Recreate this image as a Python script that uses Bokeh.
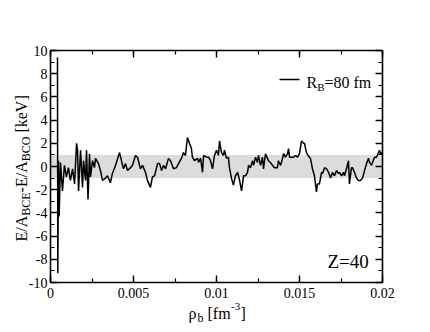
import math
from bokeh.plotting import figure
from bokeh.models import (LinearAxis, FixedTicker, BoxAnnotation, Label, Arrow, Range1d,
                          CustomJSTickFormatter)
from bokeh.embed import file_html
from bokeh.resources import INLINE

# ---------------- data ----------------
rho = [0.00042, 0.00044, 0.00048, 0.00052, 0.00060, 0.00072, 0.00084, 0.00096, 0.00108, 0.00120,
       0.00133, 0.00145, 0.00157, 0.00163, 0.00169, 0.00181, 0.00193, 0.00199, 0.00211, 0.00217,
       0.00226, 0.00235, 0.00241, 0.00253, 0.00265, 0.00271, 0.00289, 0.00301, 0.00313, 0.00331,
       0.00343, 0.00361, 0.00373, 0.00392, 0.00416, 0.00434, 0.00440, 0.00452, 0.00464, 0.00482,
       0.00494, 0.00512, 0.00524, 0.00542, 0.00554, 0.00572, 0.00584, 0.00602, 0.00614, 0.00627,
       0.00645, 0.00657, 0.00669, 0.00681, 0.00693, 0.00711, 0.00723, 0.00741, 0.00759, 0.00771,
       0.00789, 0.00801, 0.00813, 0.00825, 0.00837, 0.00849, 0.00855, 0.00867, 0.00886, 0.00892,
       0.00904, 0.00916, 0.00922, 0.00940, 0.00952, 0.00964, 0.00976, 0.00988, 0.01000, 0.01012,
       0.01018, 0.01030, 0.01042, 0.01048, 0.01060, 0.01072, 0.01078, 0.01090, 0.01102, 0.01114,
       0.01127, 0.01139, 0.01151, 0.01163, 0.01175, 0.01187, 0.01193, 0.01205, 0.01217, 0.01223,
       0.01235, 0.01247, 0.01253, 0.01265, 0.01277, 0.01283, 0.01295, 0.01307, 0.01313, 0.01325,
       0.01337, 0.01349, 0.01367, 0.01373, 0.01386, 0.01398, 0.01404, 0.01416, 0.01428, 0.01434,
       0.01440, 0.01452, 0.01464, 0.01476, 0.01488, 0.01500, 0.01512, 0.01524, 0.01530, 0.01542,
       0.01554, 0.01566, 0.01578, 0.01590, 0.01602, 0.01608, 0.01620, 0.01633, 0.01639, 0.01651,
       0.01663, 0.01675, 0.01687, 0.01699, 0.01711, 0.01723, 0.01735, 0.01741, 0.01753, 0.01765,
       0.01771, 0.01783, 0.01795, 0.01801, 0.01813, 0.01819, 0.01831, 0.01843, 0.01855, 0.01867,
       0.01880, 0.01892, 0.01904, 0.01916, 0.01922, 0.01934, 0.01940, 0.01952, 0.01964, 0.01976,
       0.01982, 0.01988, 0.02000]
dE = [9.4, -9.2, 0.5, -4.3, 0.35, -2.1, 0.1, -0.9, -0.1, -1.2,
      -0.2, -1.5, 2.0, 1.4, -2.1, 1.4, -1.8, 0.5, -1.2, 1.4,
      -2.85, 1.1, -0.9, 0.5, -0.1, 0.7, 0.25, -0.35, -1.2, -1.0,
      -0.8, -1.4, -0.6, 0.1, 1.2, 0.1, -0.2, 0.25, -0.35, -0.1,
      0.1, 0.95, 0.8, -0.2, 0.1, -0.5, -1.2, -1.8, -0.9, -0.8,
      0.25, 0.25, -0.35, 0.1, -0.2, 0.7, 0.5, -0.2, -0.1, 0.25,
      0.7, 1.2, 0.95, 2.5, 2.0, 1.55, 0.8, 0.5, 0.7, 0.35,
      0.7, -0.5, 0.95, 0.8, 0.8, 0.5, -0.2, 0.95, 1.4, 0.95,
      2.2, 1.2, 0.95, 1.4, 0.7, 0.8, -0.1, -1.0, -1.6, -0.8,
      -0.5, -1.2, -2.1, -0.8, -0.8, -0.5, 0.1, -0.1, 0.5, 0.1,
      0.8, 0.35, 0.95, 0.1, 0.8, -0.2, 1.1, 0.7, 0.5, 0.35,
      0.1, -0.1, -0.1, 0.5, 0.1, 0.7, 1.1, 0.8, 1.1, 1.55,
      0.8, 0.8, 0.8, 0.95, 0.8, 1.1, 2.2, 2.0, 2.0, 1.2,
      0.9, 0.7, -0.2, -0.8, -2.2, -1.5, -1.5, -0.5, -0.6, -0.1,
      -0.2, -0.5, -1.0, -0.5, -0.8, -0.35, -0.6, -0.5, -0.8, -0.5,
      -0.8, -0.2, 0.5, -1.5, -0.1, -0.1, -0.5, -1.0, -1.2, -1.2,
      -1.0, -0.35, 0.25, 0.7, 0.35, 0.1, 0.35, 0.8, 0.8, 1.2,
      1.4, 1.1, 1.2]

band_lo, band_hi = -1.0, 1.0
x_lo, x_hi = 0.0, 0.02
y_lo, y_hi = -10.0, 10.0
x_ticks = [0, 0.005, 0.01, 0.015, 0.02]
x_tick_labels = ["0", "0.005", "0.01", "0.015", "0.02"]
x_minor = [0, 0.0025, 0.005, 0.0075, 0.01, 0.0125, 0.015, 0.0175, 0.02]
y_ticks = [-10, -8, -6, -4, -2, 0, 2, 4, 6, 8, 10]
y_tick_labels = ["-10", "-8", "-6", "-4", "-2", "0", "2", "4", "6", "8", "10"]
y_minor = list(range(-10, 11))

FONT = "Liberation Serif"

# ---------------- layout (pixels) ----------------
W, H = 428, 330
BOX_L, BOX_R, BOX_T, BOX_B = 50, 382, 50, 282   # plot box on the canvas
kx = (x_hi - x_lo) / (BOX_R - BOX_L)
ky = (y_hi - y_lo) / (BOX_B - BOX_T)
xr = Range1d(x_lo - BOX_L * kx, x_hi + (W - BOX_R) * kx)
yr = Range1d(y_lo - (H - BOX_B) * ky, y_hi + BOX_T * ky)

p = figure(width=W, height=H, x_range=xr, y_range=yr,
           output_backend="svg", toolbar_location=None,
           x_axis_type=None, y_axis_type=None)
p.min_border = 0
p.min_border_left = 0
p.min_border_right = 0
p.min_border_top = 0
p.min_border_bottom = 0
p.outline_line_color = None
p.background_fill_color = "white"
p.border_fill_color = "white"

p.add_layout(BoxAnnotation(left=x_lo, right=x_hi, bottom=band_lo, top=band_hi,
                           fill_color="#dcdcdc", fill_alpha=1.0, line_color=None,
                           level="underlay"))

p.line(rho, dE, line_color="black", line_width=1.5)

blank = CustomJSTickFormatter(code="return ''")


def make_axis(ticks, minor, loc, bounds, labels=None, standoff=4):
    ax = LinearAxis(fixed_location=loc, bounds=bounds)
    ax.ticker = FixedTicker(ticks=ticks, minor_ticks=minor)
    ax.axis_line_width = 1.6
    ax.axis_line_color = "black"
    ax.major_tick_line_width = 1.4
    ax.minor_tick_line_width = 1.2
    ax.major_tick_in = 7
    ax.major_tick_out = 0
    ax.minor_tick_in = 4
    ax.minor_tick_out = 0
    ax.major_label_text_font = FONT
    ax.major_label_text_font_size = "14px"
    ax.major_label_text_color = "black"
    ax.major_label_standoff = standoff
    if labels is None:
        ax.formatter = blank
    else:
        ax.major_label_overrides = dict(zip(ticks, labels))
    return ax


p.add_layout(make_axis(x_ticks, x_minor, y_lo, (x_lo, x_hi), x_tick_labels, 5), "below")
p.add_layout(make_axis(y_ticks, y_minor, x_lo, (y_lo, y_hi), y_tick_labels, 3), "left")
p.add_layout(make_axis(x_ticks, x_minor, y_hi, (x_lo, x_hi)), "above")
p.add_layout(make_axis(y_ticks, y_minor, x_hi, (y_lo, y_hi)), "right")


def lab(text, px, py, size, angle=0.0):
    # px, py: canvas pixel position (from top-left) of the text anchor
    p.add_layout(Label(x=px, y=H - py, x_units="screen", y_units="screen", text=text,
                       text_font=FONT, text_font_size=f"{size}px", text_color="black",
                       text_align="left", text_baseline="alphabetic", angle=angle))


# y axis label (rotated), pieces from bottom to top
A = math.pi / 2
bx = 21
y0 = 241
lab("E/A", bx, y0, 16, A)
lab("BCE", bx + 4, y0 - 25.8, 12, A)
lab("-E/A", bx, y0 - 49.1, 16, A)
lab("BCO", bx + 4, y0 - 80.2, 12, A)
lab("[keV]", bx, y0 - 108.9, 16, A)

# x axis label
lab("\u03c1", 188, 313, 16)
lab("b", 197, 317, 12)
lab("[fm", 207, 313, 16)
lab("-3", 230.5, 306, 11)
lab("]", 240, 313, 16)

# legend
p.add_layout(Arrow(end=None, x_start=279, y_start=H - 79, x_end=299, y_end=H - 79,
                   start_units="screen", end_units="screen", line_width=1.5,
                   line_color="black"))
lab("R", 306, 82, 16)
lab("B", 316.7, 86, 11)
lab("=80 fm", 324, 82, 16)

# annotation
lab("Z=40", 327, 261, 19)

open("out.html", "w").write(file_html(p, INLINE))
